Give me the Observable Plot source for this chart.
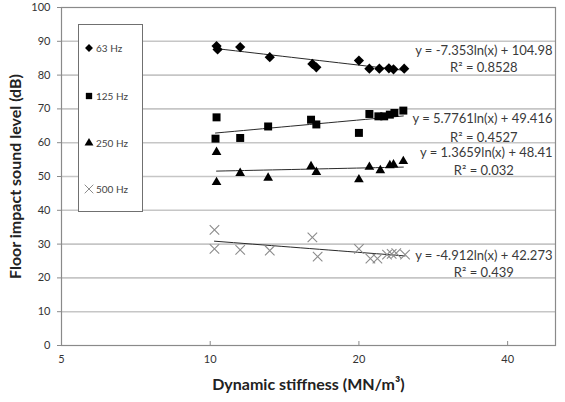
<!DOCTYPE html>
<html>
<head>
<meta charset="utf-8">
<script src="https://cdn.jsdelivr.net/npm/d3@7"></script>
<script src="https://cdn.jsdelivr.net/npm/@observablehq/plot@0.6"></script>
<style>
  body { margin: 0; background: #fff; }
  #wrap { position: relative; width: 565px; height: 402px; }
  .legend {
    position: absolute; left: 78px; top: 24px; width: 65px; height: 188px;
    border: 1px solid #707070; background: #fff; box-sizing: border-box;
    font-family: Lato, sans-serif; font-size: 10px; color: #444;
  }
  .legend .item { position: absolute; left: 4px; display: flex; align-items: center; gap: 1px; white-space: nowrap; }
  .legend svg { display: block; }
</style>
</head>
<body>
<div id="wrap"></div>
<script>
// Octave bands
const bands = ["63 Hz", "125 Hz", "250 Hz", "500 Hz"];

// Dynamic stiffness (MN/m³) and floor impact sound level (dB) per band
const stiffness63  = [10.3, 10.35, 11.5, 13.2, 16.1, 16.4, 20.0, 21.0, 22.0, 23.0, 23.5, 24.7];
const level63      = [88.6, 87.6, 88.3, 85.3, 83.3, 82.3, 84.3, 81.9, 81.9, 82.0, 81.7, 81.9];

const stiffness125 = [10.3, 10.25, 11.5, 13.1, 16.0, 16.4, 20.0, 21.0, 21.9, 22.5, 23.1, 23.6, 24.6];
const level125     = [67.5, 61.2, 61.4, 64.8, 66.8, 65.4, 62.9, 68.5, 67.8, 67.8, 68.3, 68.8, 69.5];

const stiffness250 = [10.3, 10.3, 11.5, 13.1, 16.0, 16.4, 20.0, 21.0, 22.1, 23.1, 23.5, 24.6];
const level250     = [57.2, 48.3, 51.0, 49.6, 53.0, 51.3, 49.1, 52.8, 51.8, 53.3, 53.5, 54.5];

const stiffness500 = [10.2, 10.2, 11.5, 13.2, 16.1, 16.5, 20.0, 21.1, 21.8, 22.8, 23.3, 23.8, 24.8];
const level500     = [34.2, 28.6, 28.3, 28.1, 32.0, 26.3, 28.6, 25.7, 25.7, 26.9, 27.1, 27.3, 26.9];

// Logarithmic trendlines y = a·ln(x) + b
const slopes     = [-7.353, 5.7761, 1.3659, -4.912];
const intercepts = [104.98, 49.416, 48.41, 42.273];
const slopeText     = ["-7.353", "5.7761", "1.3659", "-4.912"];
const interceptText = ["104.98", "49.416", "48.41", "42.273"];
const r2Text     = ["0.8528", "0.4527", "0.032", "0.439"];

// Where each trendline's equation and R² sit (data units)
const eqLabelY = [87.3, 67.2, 57.1, 26.6];
const r2LabelY = [82.2, 61.5, 51.8, 21.6];
const r2LabelX = 35.8;

const xTicks = [5, 10, 20, 40];
const yTicks = d3.range(0, 101, 10);

const symbols = ["diamond2", "square", "triangle", "times"];
const radii   = [4.6, 4.5, 3.6, 4.4];

const xs = [stiffness63, stiffness125, stiffness250, stiffness500];
const ys = [level63, level125, level250, level500];

const points = bands.map((band, i) => xs[i].map((x, j) => ({band, x, y: ys[i][j]})));

const trends = bands.map((band, i) => {
  const lo = d3.min(xs[i]), hi = d3.max(xs[i]);
  return d3.range(0, 21).map(k => {
    const x = lo * Math.pow(hi / lo, k / 20);
    return {band, x, y: slopes[i] * Math.log(x) + intercepts[i]};
  });
});

const eqLabels = bands.map((band, i) => ({
  text: `y = ${slopeText[i]}ln(x) + ${interceptText[i]}`, y: eqLabelY[i]
}));
const r2Labels = bands.map((band, i) => ({text: `R² = ${r2Text[i]}`, y: r2LabelY[i]}));

const font = "Lato, 'Open Sans', sans-serif";

const marks = [
  Plot.ruleY(yTicks.filter(d => d > 0 && d < 100), {stroke: "#c6c6c6", strokeWidth: 1.6}),
  Plot.frame({stroke: "#8a8a8a", strokeWidth: 1.2}),
  Plot.axisY({ticks: yTicks, tickSize: 4, tickPadding: 7, label: null, stroke: "#8a8a8a",
              fontSize: 11, fill: "#333"}),
  Plot.axisX({ticks: xTicks, tickSize: -4, tickPadding: 14, label: null, tickFormat: d => d,
              stroke: "#8a8a8a", fontSize: 11, fill: "#333"}),
  ...trends.map(t => Plot.line(t, {x: "x", y: "y", stroke: "#2a2a2a", strokeWidth: 1})),
];

points.forEach((pts, i) => {
  if (symbols[i] === "times") {
    marks.push(Plot.dot(pts, {x: "x", y: "y", symbol: "times", r: radii[i], stroke: "#8c8c8c", strokeWidth: 1.1}));
  } else {
    marks.push(Plot.dot(pts, {x: "x", y: "y", symbol: symbols[i], r: radii[i], fill: "#000", stroke: "none"}));
  }
});

marks.push(
  Plot.text(eqLabels, {x: () => 50, y: "y", text: "text", textAnchor: "end", dx: -3,
                       fontSize: 13, fill: "#3a3a3a", fontFamily: font}),
  Plot.text(r2Labels, {x: () => r2LabelX, y: "y", text: "text", textAnchor: "middle",
                       fontSize: 13, fill: "#3a3a3a", fontFamily: font}),
  Plot.text(["Dynamic stiffness (MN/m³)"], {frameAnchor: "bottom", textAnchor: "middle", dy: 44,
                       fontWeight: "bold", fontSize: 16, fill: "#222", fontFamily: font}),
  Plot.text(["Floor impact sound level (dB)"], {frameAnchor: "left", textAnchor: "middle", dx: -46,
                       rotate: -90, fontWeight: "bold", fontSize: 16, fill: "#222", fontFamily: font})
);

const chart = Plot.plot({
  width: 565,
  height: 402,
  marginLeft: 61,
  marginRight: 10,
  marginTop: 7,
  marginBottom: 57,
  style: {fontFamily: font, fontSize: "11px", color: "#333", background: "#fff"},
  x: {type: "log", domain: [5, 50]},
  y: {domain: [0, 100]},
  marks
});

const wrap = document.getElementById("wrap");
wrap.appendChild(chart);

// Series key drawn inside the plot area
const legend = document.createElement("div");
legend.className = "legend";
const legendTop = [23, 71, 118, 164];
const legendSymbols = [d3.symbolDiamond2, d3.symbolSquare, d3.symbolTriangle, d3.symbolTimes];
const legendSizes = [40, 40, 34, 50];
bands.forEach((band, i) => {
  const item = document.createElement("div");
  item.className = "item";
  item.style.top = (legendTop[i] - 7) + "px";
  const path = d3.symbol(legendSymbols[i], legendSizes[i])();
  const paint = i === 3 ? `fill="none" stroke="#8c8c8c" stroke-width="1"` : `fill="#000"`;
  item.innerHTML = `<svg width="12" height="14" viewBox="-6 -7 12 14"><path d="${path}" ${paint}/></svg><span>${band}</span>`;
  legend.appendChild(item);
});
wrap.appendChild(legend);
</script>
</body>
</html>
